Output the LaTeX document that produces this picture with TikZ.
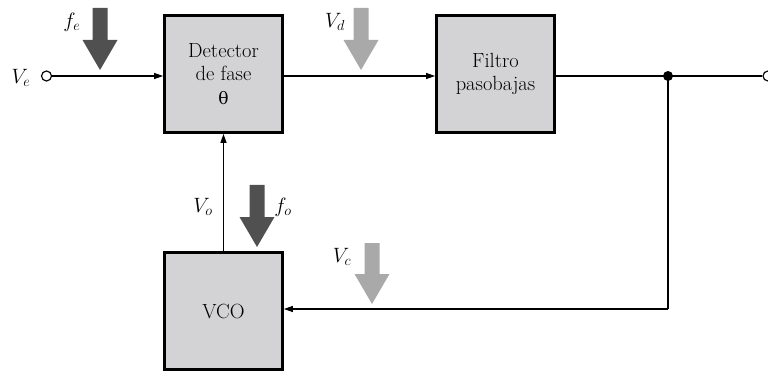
\documentclass[tikz,border=0pt]{standalone}
\usepackage{fontspec}
\newfontfamily\grk{DejaVu Serif}
\usetikzlibrary{arrows.meta}
\definecolor{boxgray}{HTML}{D3D3D5}
\definecolor{darkarr}{HTML}{505050}
\definecolor{lightarr}{HTML}{A9A9A9}
\newcommand{\fatarr}[5]{%
  \fill[#1] (#2-7.5,#3) -- (#2+7.5,#3) -- (#2+7.5,#4) -- (#2+17.5,#4) -- (#2,#5) -- (#2-17.5,#4) -- (#2-7.5,#4) -- cycle;}
\begin{document}
\begin{tikzpicture}[x=1pt,y=-1pt,
  blk/.style={draw=black,line width=2.8pt,fill=boxgray,minimum width=118pt,minimum height=117pt,
    inner sep=0pt,align=center,font=\fontsize{20.5}{23.5}\selectfont},
  conn/.style={line width=1.15pt,-{Triangle[length=9pt,width=6pt]}},
  wire/.style={line width=1.15pt},
  term/.style={circle,draw=black,line width=1.15pt,fill=white,minimum size=10pt,inner sep=0pt},
  lab/.style={font=\fontsize{21}{23}\selectfont,inner sep=0pt}]
\useasboundingbox (0,0) rectangle (768,374);
\node[blk] (det) at (223.5,74) {Detector\\de fase\\{\grk\fontsize{17}{23}\selectfont θ}};
\node[blk] (fil) at (495.5,74) {Filtro\\pasobajas};
\node[blk] (vco) at (223.5,311) {VCO};
\node[term] (in) at (46.5,76) {};
\node[term] (out) at (768,76) {};
\fill (668,76) circle (5pt);
\coordinate (j) at (668,76);
\coordinate (jb) at (668,309);
% connectors
\draw[conn] (in.east) -- (in.east -| det.west);
\draw[conn] (det.east |- j) -- (fil.west |- j);
\draw[wire] (fil.east |- j) -- (out.west);
\draw[wire] (j) -- (jb);
\draw[conn] (jb) -- (jb -| vco.east);
\draw[conn] (vco.north) -- (det.south);
% fat arrows
\fatarr{darkarr}{100}{8}{40}{70}
\fatarr{lightarr}{361}{8}{40}{70}
\fatarr{darkarr}{257}{185}{217}{247}
\fatarr{lightarr}{372}{243}{274}{304}
% labels
\node[lab] (fe) at (72,22) {$f_e$};
\node[lab] (ve) at (21,78) {$V_e$};
\node[lab] (vd) at (335,22) {$V_d$};
\node[lab] (vo) at (203,207) {$V_o$};
\node[lab] (fo) at (283,207) {$f_o$};
\node[lab] (vc) at (342,257) {$V_c$};
\end{tikzpicture}
\end{document}
